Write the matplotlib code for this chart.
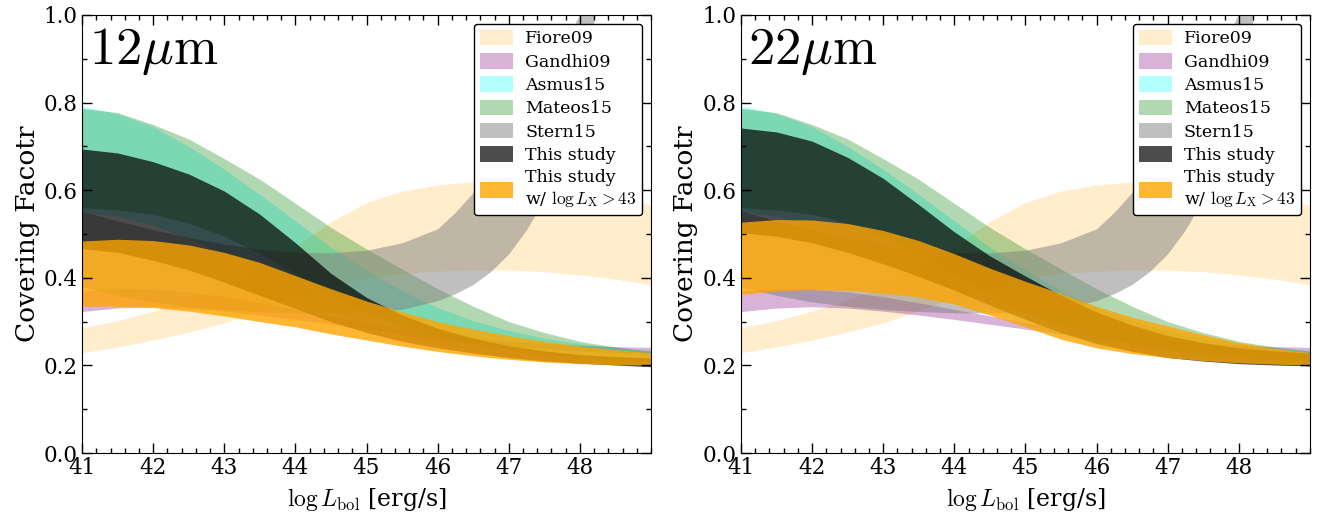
import matplotlib
matplotlib.use('Agg')
import matplotlib.pyplot as plt
from matplotlib.ticker import MultipleLocator

# log L_bol grid (erg/s)
lbol = [41.0, 41.5, 42.0, 42.5, 43.0, 43.5, 44.0, 44.5, 45.0,
        45.5, 46.0, 46.5, 47.0, 47.5, 48.0, 48.5, 49.0]

# literature relations (same in both panels)
fiore_lo = [0.229, 0.242, 0.258, 0.276, 0.297, 0.325, 0.355, 0.380, 0.400,
            0.410, 0.415, 0.418, 0.418, 0.414, 0.407, 0.397, 0.384]
fiore_hi = [0.286, 0.302, 0.324, 0.350, 0.381, 0.423, 0.472, 0.528, 0.572,
            0.598, 0.612, 0.619, 0.618, 0.610, 0.596, 0.582, 0.566]
gandhi_lo = [0.323, 0.331, 0.334, 0.331, 0.324, 0.315, 0.305, 0.294, 0.283,
             0.272, 0.262, 0.253, 0.245, 0.238, 0.233, 0.229, 0.226]
gandhi_hi = [0.370, 0.375, 0.374, 0.368, 0.357, 0.343, 0.328, 0.313, 0.298,
             0.285, 0.273, 0.263, 0.255, 0.250, 0.246, 0.243, 0.241]
asmus_lo = [0.550, 0.540, 0.520, 0.490, 0.455, 0.415, 0.370, 0.330, 0.295,
            0.268, 0.247, 0.232, 0.221, 0.212, 0.206, 0.202, 0.199]
asmus_hi = [0.792, 0.775, 0.745, 0.700, 0.648, 0.590, 0.530, 0.470, 0.418,
            0.370, 0.332, 0.302, 0.280, 0.262, 0.250, 0.240, 0.233]
mateos_lo = [0.560, 0.555, 0.545, 0.525, 0.495, 0.455, 0.410, 0.362, 0.320,
             0.290, 0.265, 0.248, 0.235, 0.225, 0.217, 0.212, 0.208]
mateos_hi = [0.787, 0.777, 0.750, 0.717, 0.672, 0.625, 0.570, 0.515, 0.466,
             0.420, 0.375, 0.335, 0.300, 0.275, 0.255, 0.242, 0.233]

stern_x = [41.0, 41.5, 42.0, 42.5, 43.0, 43.5, 44.0, 44.5, 45.0,
           45.5, 46.0, 46.25, 46.5, 46.75, 47.0, 47.25, 47.5, 47.75, 48.0, 48.25]
stern_lo = [0.380, 0.360, 0.345, 0.335, 0.328, 0.323, 0.320, 0.320, 0.322,
            0.328, 0.348, 0.364, 0.385, 0.415, 0.455, 0.510, 0.580, 0.680, 0.820, 1.030]
stern_hi = [0.552, 0.530, 0.510, 0.492, 0.477, 0.465, 0.458, 0.457, 0.463,
            0.480, 0.512, 0.550, 0.595, 0.648, 0.705, 0.768, 0.835, 0.915, 1.005, 1.110]

# this study, 12um
study12_lo = [0.467, 0.458, 0.440, 0.418, 0.390, 0.360, 0.330, 0.300, 0.275,
              0.255, 0.240, 0.228, 0.218, 0.210, 0.205, 0.201, 0.197]
study12_hi = [0.694, 0.685, 0.665, 0.637, 0.598, 0.545, 0.480, 0.410, 0.355,
              0.315, 0.285, 0.262, 0.245, 0.233, 0.225, 0.220, 0.217]
hx12_lo = [0.335, 0.335, 0.332, 0.324, 0.313, 0.300, 0.288, 0.272, 0.258,
           0.244, 0.232, 0.222, 0.214, 0.208, 0.204, 0.202, 0.201]
hx12_hi = [0.484, 0.488, 0.485, 0.475, 0.458, 0.435, 0.405, 0.375, 0.347,
           0.322, 0.300, 0.283, 0.268, 0.255, 0.244, 0.236, 0.229]

# this study, 22um
study22_lo = [0.503, 0.495, 0.480, 0.458, 0.432, 0.403, 0.372, 0.338, 0.305,
              0.275, 0.250, 0.232, 0.218, 0.210, 0.204, 0.201, 0.199]
study22_hi = [0.742, 0.733, 0.712, 0.675, 0.627, 0.567, 0.505, 0.450, 0.404,
              0.360, 0.322, 0.292, 0.268, 0.252, 0.240, 0.233, 0.228]
hx22_lo = [0.362, 0.370, 0.373, 0.371, 0.365, 0.356, 0.340, 0.315, 0.288,
           0.260, 0.240, 0.227, 0.218, 0.211, 0.206, 0.203, 0.201]
hx22_hi = [0.527, 0.533, 0.532, 0.524, 0.508, 0.485, 0.455, 0.422, 0.392,
           0.364, 0.335, 0.310, 0.290, 0.270, 0.252, 0.239, 0.229]

plt.rcParams['font.family'] = 'serif'
plt.rcParams['font.serif'] = ['DejaVu Serif']
plt.rcParams['mathtext.fontset'] = 'cm'


def draw_panel(ax, band_name, study_lo, study_hi, hx_lo, hx_hi):
	ax.fill_between(lbol, fiore_lo, fiore_hi, color='orange', alpha=0.2, lw=0, label='Fiore09')
	ax.fill_between(lbol, gandhi_lo, gandhi_hi, color='purple', alpha=0.3, lw=0, label='Gandhi09')
	ax.fill_between(lbol, asmus_lo, asmus_hi, color='cyan', alpha=0.3, lw=0, label='Asmus15')
	ax.fill_between(lbol, mateos_lo, mateos_hi, color='green', alpha=0.3, lw=0, label='Mateos15')
	ax.fill_between(stern_x, stern_lo, stern_hi, color='gray', alpha=0.5, lw=0, label='Stern15')
	ax.fill_between(lbol, study_lo, study_hi, color='black', alpha=0.7, lw=0, label='This study')
	ax.fill_between(lbol, hx_lo, hx_hi, color='orange', alpha=0.8, lw=0,
					label='This study\nw/ $\\log L_{\\rm X}>43$')

	ax.set_xlim(41, 49)
	ax.set_ylim(0, 1)
	ax.set_xticks(range(41, 49))
	ax.set_yticks([0.0, 0.2, 0.4, 0.6, 0.8, 1.0])
	ax.xaxis.set_minor_locator(MultipleLocator(0.2))
	ax.yaxis.set_minor_locator(MultipleLocator(0.1))
	ax.tick_params(which='both', direction='in', top=True, right=True, labelsize=15.5, pad=3)
	ax.tick_params(which='major', length=7, width=1)
	ax.tick_params(which='minor', length=3.5, width=1)

	ax.set_xlabel('$\\log L_{\\rm bol}$ [erg/s]', fontsize=17, labelpad=5)
	ax.set_ylabel('Covering Facotr', fontsize=19, labelpad=3)
	ax.text(0.012, 0.975, band_name, transform=ax.transAxes, fontsize=38, va='top', ha='left')

	leg = ax.legend(loc='upper right', fontsize=12.5, handlelength=1.9, handleheight=1.0,
					labelspacing=0.32, borderpad=0.35, handletextpad=0.7,
					fancybox=True, framealpha=1)
	leg.get_frame().set_edgecolor('black')


fig = plt.figure(figsize=(13.3, 5.2), dpi=100)
ax1 = fig.add_axes([0.0617, 0.1288, 0.4278, 0.8424])
ax2 = fig.add_axes([0.5571, 0.1288, 0.4278, 0.8424])

draw_panel(ax1, '$12\\mu{\\rm m}$', study12_lo, study12_hi, hx12_lo, hx12_hi)
draw_panel(ax2, '$22\\mu{\\rm m}$', study22_lo, study22_hi, hx22_lo, hx22_hi)

fig.savefig('out.png', dpi=100)
